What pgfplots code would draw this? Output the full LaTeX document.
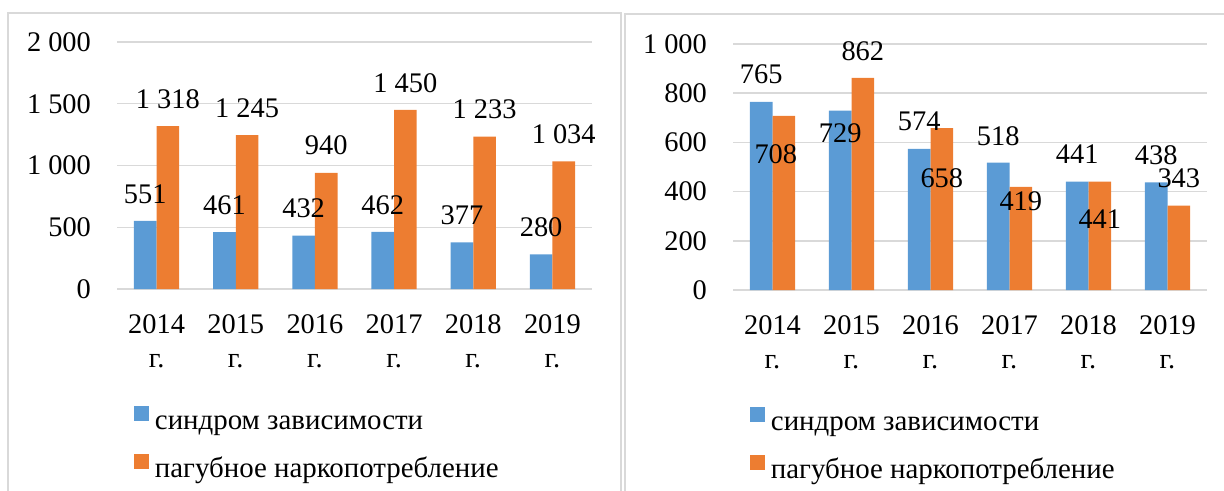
\documentclass[border=0pt]{standalone}
\usepackage{pgfplots}
\pgfplotsset{compat=1.18}
\usepackage{pgfplotstable}
\usepackage{fontspec}
\setmainfont{Liberation Serif}
\definecolor{cblue}{HTML}{5B9BD5}
\definecolor{corange}{HTML}{ED7D31}
\definecolor{cgrid}{HTML}{D9D9D9}
\definecolor{cframe}{HTML}{D9D9D9}

\pgfplotstableread{
x b o
0 551 1318
1 461 1245
2 432 940
3 462 1450
4 377 1233
5 280 1034
}\lefttab

\pgfplotstableread{
x b o dyb dyo dxo
0 765 708 18 -48 -8
1 729 862 -32 17 0
2 574 658 18 -60 0
3 518 419 17 -24 0
4 441 441 18 -47 0
5 438 343 17 18 0
}\righttab

\pgfplotsset{
  sqleg/.style={legend image code/.code={\fill[##1] (0pt,3pt) rectangle (15pt,18pt);}},
  panel/.style={
    scale only axis, ybar, xmin=-0.5, xmax=5.5,
    ymin=0, axis line style={draw=none}, major tick length=0pt,
    ymajorgrids, major grid style={draw=cgrid, line width=1.5pt},
    xtick={0,...,5},
    xticklabels={{2014\\г.},{2015\\г.},{2016\\г.},{2017\\г.},{2018\\г.},{2019\\г.}},
    xticklabel style={align=center, anchor=north, inner sep=0pt, yshift=-26pt},
    yticklabel style={anchor=east, inner sep=0pt, xshift=-26pt},
    /pgf/number format/1000 sep={\ }, /pgf/number format/assume math mode=true,
    clip=false,
    legend style={draw=none, fill=none, inner sep=0pt, outer sep=0pt, anchor=north west,
      legend columns=1, column sep=6pt, row sep=16pt,
      font=\fontsize{29}{34}\selectfont,
      nodes={inner sep=0pt, text height=20pt, text depth=8pt}},
    legend cell align=left,
  },
  bb/.style={bar width=22.7pt, bar shift=-11.35pt, fill=cblue, draw=none},
  bo/.style={bar width=22.7pt, bar shift=11.35pt, fill=corange, draw=none},
}

\begin{document}
\begin{tikzpicture}[font=\fontsize{28.5}{33.6}\selectfont]
\useasboundingbox (0,0) rectangle (1224bp,491bp);
\draw[cframe, line width=1.5pt] (8bp,0) -- (8bp,478bp) -- (621bp,478bp) -- (621bp,0);
\draw[cframe, line width=1.5pt] (625bp,0) -- (625bp,477bp) -- (1230bp,477bp);

\begin{axis}[panel, at={(117bp,202bp)}, anchor=south west,
  width=475bp, height=247bp, ymax=2000,
  ytick={0,500,1000,1500,2000},
  legend style={at={(axis description cs:0.0358,-0.474)}}]
\addplot[bb, sqleg] table[x=x, y=b] {\lefttab};
\addlegendentry{синдром зависимости}
\addplot[bo, sqleg] table[x=x, y=o] {\lefttab};
\addlegendentry{пагубное наркопотребление}
\addplot[bb, fill=none, forget plot, nodes near coords,
  every node near coord/.append style={text=black, inner sep=0pt, yshift=17.5pt}]
  table[x=x, y=b] {\lefttab};
\addplot[bo, fill=none, forget plot, nodes near coords,
  every node near coord/.append style={text=black, inner sep=0pt, yshift=17.5pt}]
  table[x=x, y=o] {\lefttab};
\end{axis}

\begin{axis}[panel, at={(733bp,201bp)}, anchor=south west,
  width=474bp, height=246bp, ymax=1000,
  ytick={0,200,400,600,800,1000},
  legend style={at={(axis description cs:0.0359,-0.4756)}}]
\addplot[bb, sqleg] table[x=x, y=b] {\righttab};
\addlegendentry{синдром зависимости}
\addplot[bo, sqleg] table[x=x, y=o] {\righttab};
\addlegendentry{пагубное наркопотребление}
\addplot[bb, fill=none, forget plot, nodes near coords,
  visualization depends on={\thisrow{dyb} \as \dy},
  every node near coord/.append style={text=black, inner sep=0pt, yshift=\dy pt}]
  table[x=x, y=b] {\righttab};
\addplot[bo, fill=none, forget plot, nodes near coords,
  visualization depends on={\thisrow{dyo} \as \dy},
  visualization depends on={\thisrow{dxo} \as \dx},
  every node near coord/.append style={text=black, inner sep=0pt, yshift=\dy pt, xshift=\dx pt}]
  table[x=x, y=o] {\righttab};
\end{axis}
\end{tikzpicture}
\end{document}
